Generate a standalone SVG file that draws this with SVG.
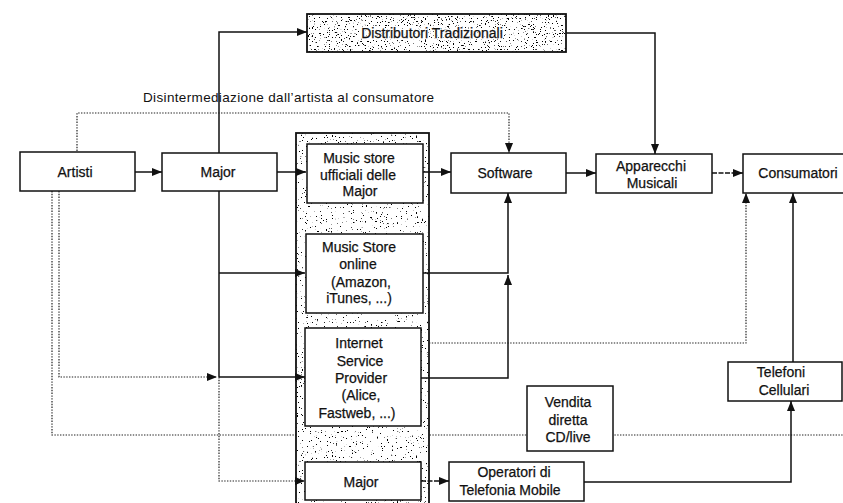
<svg xmlns="http://www.w3.org/2000/svg" width="843" height="503" viewBox="0 0 843 503">
  <style>
    .box { fill: #ffffff; stroke: #111111; stroke-width: 1.5; }
    .lbl { font-family: "Liberation Sans", Arial, sans-serif; font-size: 14px; fill: #111111; stroke: #111111; stroke-width: 0.25; text-anchor: middle; }
    .note { font-family: "Liberation Sans", Arial, sans-serif; font-size: 13.5px; fill: #111111; letter-spacing: 0.35px; }
    .halo { fill: #ffffff; stroke: #ffffff; stroke-width: 3; stroke-linejoin: round; opacity: 0.85; }
    .solid { fill: none; stroke: #111111; stroke-width: 1.5; }
    .dot { fill: none; stroke: #222222; stroke-width: 1.2; stroke-dasharray: 1.4 1.4; }
    .dash { fill: none; stroke: #111111; stroke-width: 1.5; stroke-dasharray: 5 1.5; }
  </style>
  <defs>
    <marker id="arr" viewBox="0 0 10 8" refX="10" refY="4" markerWidth="10" markerHeight="8" markerUnits="userSpaceOnUse" orient="auto">
      <path d="M0,0 L10,4 L0,8 Z" fill="#111111"/>
    </marker>
    <!-- grain used as shading inside the grey areas -->
    <filter id="grainHeavy" x="0" y="0" width="1" height="1" color-interpolation-filters="sRGB">
      <feTurbulence type="fractalNoise" baseFrequency="0.75" numOctaves="2" seed="7"/>
      <feColorMatrix type="matrix" values="0 0 0 0 0  0 0 0 0 0  0 0 0 0 0  -20 0 0 0 7.0"/>
      <feComposite in2="SourceGraphic" operator="in"/>
    </filter>
    <filter id="grainLight" x="0" y="0" width="1" height="1" color-interpolation-filters="sRGB">
      <feTurbulence type="fractalNoise" baseFrequency="0.8" numOctaves="2" seed="3"/>
      <feColorMatrix type="matrix" values="0 0 0 0 0  0 0 0 0 0  0 0 0 0 0  -20 0 0 0 6.3"/>
      <feComposite in2="SourceGraphic" operator="in"/>
    </filter>
  </defs>

  <rect width="843" height="503" fill="#ffffff"/>

  <!-- lines drawn beneath the column of stores -->
  <g id="under-connectors">
    <polyline class="dot" points="52,191 52,435 843,435"/>
  </g>

  <!-- grey column holding the online channels -->
  <g id="channels">
    <rect x="296" y="133" width="133" height="380" fill="#ffffff"/>
    <rect x="296" y="133" width="133" height="380" fill="#333333" filter="url(#grainLight)"/>
    <rect x="296" y="133" width="133" height="380" fill="none" stroke="#111111" stroke-width="1.8"/>
  </g>

  <g id="connectors">
    <!-- main chain -->
    <line class="solid" x1="135" y1="172" x2="162" y2="172" marker-end="url(#arr)"/>
    <line class="solid" x1="277" y1="172" x2="306" y2="172" marker-end="url(#arr)"/>
    <line class="solid" x1="423" y1="172" x2="451" y2="172" marker-end="url(#arr)"/>
    <line class="solid" x1="566" y1="173" x2="596" y2="173" marker-end="url(#arr)"/>
    <line class="dash" x1="712" y1="173" x2="743" y2="173" marker-end="url(#arr)"/>
    <!-- traditional distribution -->
    <polyline class="solid" points="219,153 219,32 307,32" marker-end="url(#arr)"/>
    <polyline class="solid" points="566,33 655,33 655,154" marker-end="url(#arr)"/>
    <!-- major into the online channels -->
    <polyline class="solid" points="219,191 219,377"/>
    <line class="solid" x1="219" y1="273" x2="305" y2="273" marker-end="url(#arr)"/>
    <line class="solid" x1="219" y1="377" x2="305" y2="377" marker-end="url(#arr)"/>
    <polyline class="dot" points="219,377 219,481 305,481" marker-end="url(#arr)"/>
    <!-- artists -->
    <polyline class="dot" points="59,191 59,377 217,377" marker-end="url(#arr)"/>
    <polyline class="dot" points="77,151 77,113 509,113 509,153" marker-end="url(#arr)"/>
    <!-- channels to software and consumers -->
    <polyline class="solid" points="423,273 508,273 508,193" marker-end="url(#arr)"/>
    <polyline class="solid" points="421,378 508,378 508,275" marker-end="url(#arr)"/>
    <polyline class="dot" points="429,343 746,343 746,193" marker-end="url(#arr)"/>
    <!-- mobile path -->
    <line class="dash" x1="421" y1="481" x2="449" y2="481" marker-end="url(#arr)"/>
    <polyline class="solid" points="584,482 791,482 791,401" marker-end="url(#arr)"/>
    <line class="solid" x1="793" y1="362" x2="793" y2="193" marker-end="url(#arr)"/>
  </g>

  <text class="note" x="143" y="102">Disintermediazione dall’artista al consumatore</text>

  <g id="distributori">
    <rect x="307" y="14" width="259" height="38" fill="#ffffff"/>
    <rect x="307" y="14" width="259" height="38" fill="#333333" filter="url(#grainHeavy)"/>
    <rect x="307" y="14" width="259" height="38" fill="none" stroke="#111111" stroke-width="1.8"/>
    <text class="lbl halo" x="432" y="38">Distributori Tradizionali</text>
    <text class="lbl" x="432" y="38">Distributori Tradizionali</text>
  </g>

  <g id="artisti">
    <rect class="box" x="20" y="152" width="115" height="39"/>
    <text class="lbl" x="75" y="177">Artisti</text>
  </g>

  <g id="major">
    <rect class="box" x="162" y="153" width="115" height="38"/>
    <text class="lbl" x="218" y="177">Major</text>
  </g>

  <g id="store-ufficiali">
    <rect class="box" x="307" y="144" width="116" height="59"/>
    <text class="lbl" x="359" y="163">Music store</text>
    <text class="lbl" x="358" y="180">ufficiali delle</text>
    <text class="lbl" x="360" y="196">Major</text>
  </g>

  <g id="store-online">
    <rect class="box" x="306" y="234" width="117" height="79"/>
    <text class="lbl" x="359" y="252">Music Store</text>
    <text class="lbl" x="358" y="269">online</text>
    <text class="lbl" x="361" y="287">(Amazon,</text>
    <text class="lbl" x="359" y="303">iTunes, ...)</text>
  </g>

  <g id="isp">
    <rect class="box" x="305" y="328" width="116" height="98"/>
    <text class="lbl" x="359" y="348">Internet</text>
    <text class="lbl" x="360" y="366">Service</text>
    <text class="lbl" x="361" y="383">Provider</text>
    <text class="lbl" x="361" y="400">(Alice,</text>
    <text class="lbl" x="357" y="418">Fastweb, ...)</text>
  </g>

  <g id="major-diretta">
    <rect class="box" x="305" y="462" width="116" height="38"/>
    <text class="lbl" x="361" y="487">Major</text>
  </g>

  <g id="software">
    <rect class="box" x="451" y="153" width="115" height="40"/>
    <text class="lbl" x="505" y="178">Software</text>
  </g>

  <g id="apparecchi">
    <rect class="box" x="596" y="154" width="116" height="39"/>
    <text class="lbl" x="651" y="171">Apparecchi</text>
    <text class="lbl" x="652" y="188">Musicali</text>
  </g>

  <g id="consumatori">
    <rect class="box" x="743" y="154" width="110" height="39"/>
    <text class="lbl" x="798" y="178">Consumatori</text>
  </g>

  <g id="telefoni">
    <rect class="box" x="728" y="362" width="114" height="39"/>
    <text class="lbl" x="781" y="377">Telefoni</text>
    <text class="lbl" x="784" y="395">Cellulari</text>
  </g>

  <g id="vendita">
    <rect class="box" x="527" y="386" width="86" height="65"/>
    <text class="lbl" x="568" y="407">Vendita</text>
    <text class="lbl" x="568" y="425">diretta</text>
    <text class="lbl" x="568" y="442">CD/live</text>
  </g>

  <g id="operatori">
    <rect class="box" x="449" y="462" width="135" height="39"/>
    <text class="lbl" x="514" y="477">Operatori di</text>
    <text class="lbl" x="510" y="495">Telefonia Mobile</text>
  </g>
</svg>
